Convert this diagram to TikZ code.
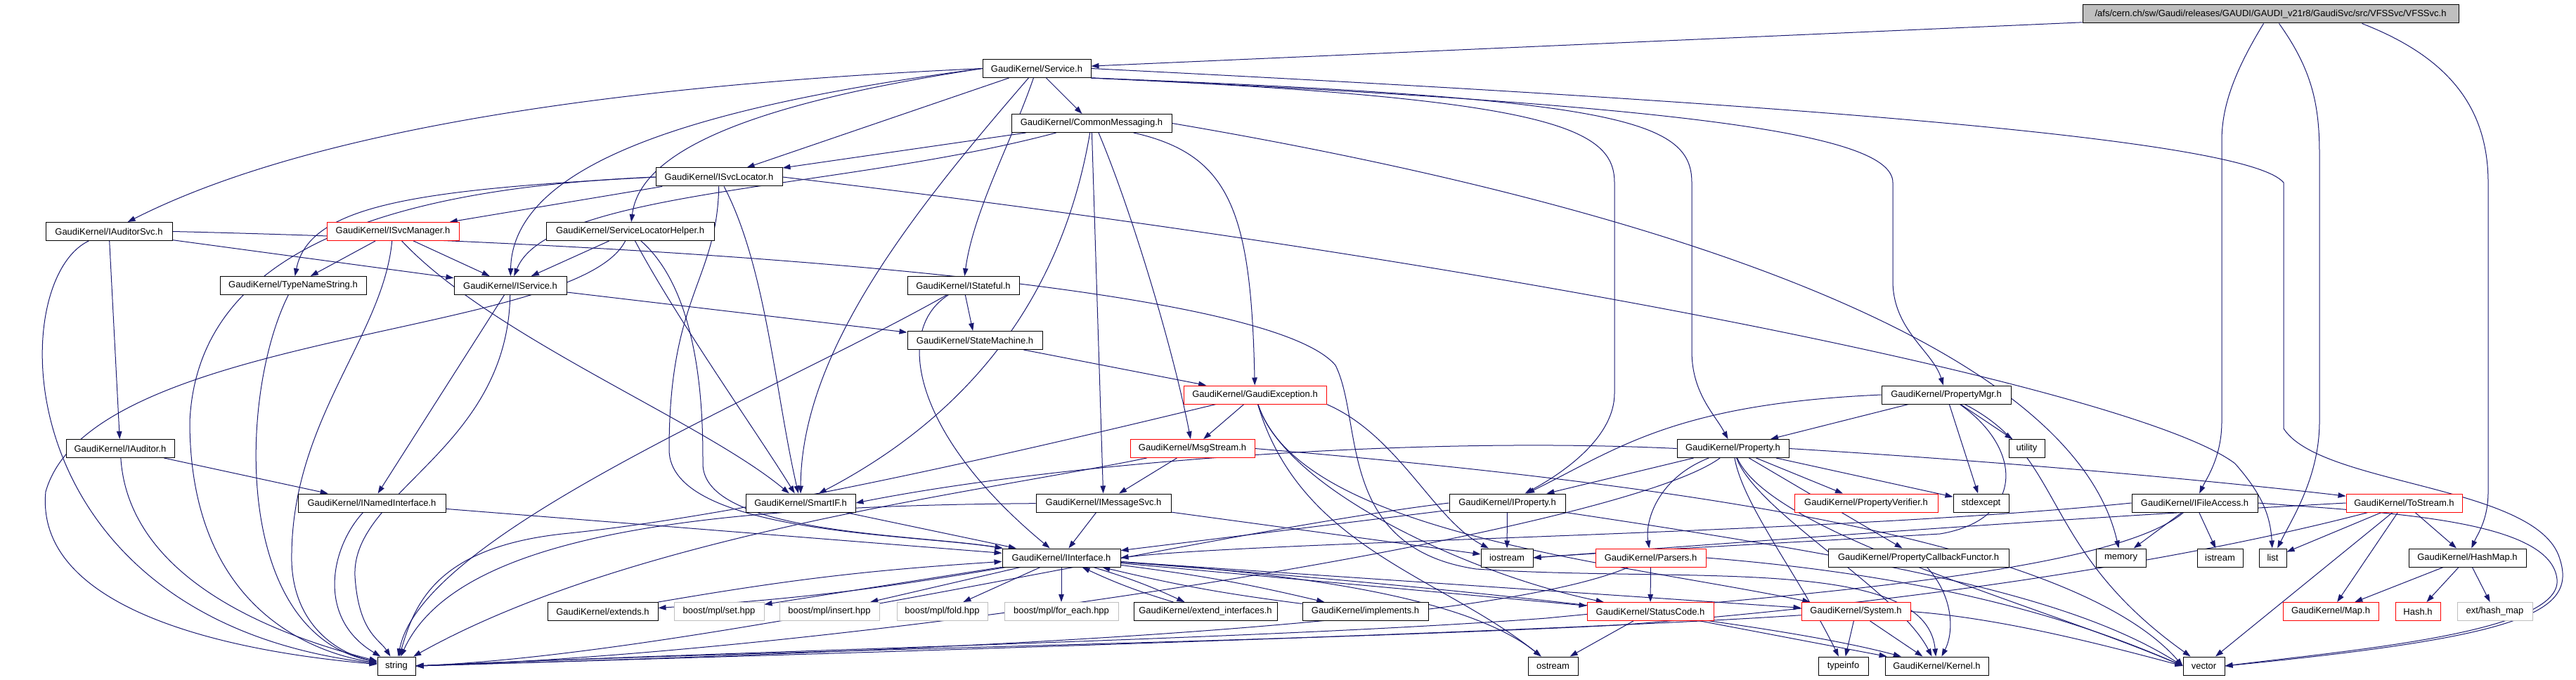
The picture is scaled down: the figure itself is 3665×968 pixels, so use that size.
\documentclass[tikz,border=0pt]{standalone}
\usepackage{fontspec}
\setmainfont{Liberation Sans}
\usetikzlibrary{arrows.meta}
\definecolor{edgec}{HTML}{191970}
\definecolor{rootfill}{HTML}{BFBFBF}
\definecolor{redb}{HTML}{FF0000}
\definecolor{grayb}{HTML}{BFBFBF}
\pgfdeclarelayer{bg}
\pgfsetlayers{bg,main}
\begin{document}
\begin{tikzpicture}[x=1pt,y=-1pt,
  n/.style={draw=black, fill=white, line width=1pt, minimum height=26pt, inner sep=0pt, font=\fontsize{13}{15}\selectfont},
  nr/.style={n, draw=redb},
  ng/.style={n, draw=grayb},
  wd/.style={minimum width=#1pt},
  e/.style={draw=edgec, line width=1pt, -{Triangle[length=11pt,width=7.5pt]}}]
\useasboundingbox (0,0) rectangle (3665,968);
% nodes
\node[n,wd=535,fill=rootfill] (VFSSvc) at (3230.5,20) {/afs/cern.ch/sw/Gaudi/releases/GAUDI/GAUDI\_v21r8/GaudiSvc/src/VFSSvc/VFSSvc.h};
\node[n,wd=154] (Service) at (1475,97.5) {GaudiKernel/Service.h};
\node[n,wd=228] (CommonMessaging) at (1553,175.5) {GaudiKernel/CommonMessaging.h};
\node[n,wd=180] (ISvcLocator) at (1023,252) {GaudiKernel/ISvcLocator.h};
\node[n,wd=180] (IAuditorSvc) at (155,329.5) {GaudiKernel/IAuditorSvc.h};
\node[nr,wd=188] (ISvcManager) at (559,329.5) {GaudiKernel/ISvcManager.h};
\node[n,wd=239] (ServiceLocatorHelper) at (896.5,329.5) {GaudiKernel/ServiceLocatorHelper.h};
\node[n,wd=208] (TypeNameString) at (417,406.5) {GaudiKernel/TypeNameString.h};
\node[n,wd=160] (IService) at (726,406.5) {GaudiKernel/IService.h};
\node[n,wd=159] (IStateful) at (1370.5,406.5) {GaudiKernel/IStateful.h};
\node[n,wd=192] (StateMachine) at (1387,484.5) {GaudiKernel/StateMachine.h};
\node[nr,wd=203] (GaudiException) at (1785.5,562) {GaudiKernel/GaudiException.h};
\node[n,wd=184] (PropertyMgr) at (2769,562) {GaudiKernel/PropertyMgr.h};
\node[nr,wd=177] (MsgStream) at (1696.5,638.5) {GaudiKernel/MsgStream.h};
\node[n,wd=159] (Property) at (2465.5,638.5) {GaudiKernel/Property.h};
\node[n,wd=51] (utility) at (2883.5,638.5) {utility};
\node[n,wd=154] (IAuditor) at (171,638.5) {GaudiKernel/IAuditor.h};
\node[n,wd=210] (INamedInterface) at (529,716) {GaudiKernel/INamedInterface.h};
\node[n,wd=156] (SmartIF) at (1139,716) {GaudiKernel/SmartIF.h};
\node[n,wd=192] (IMessageSvc) at (1570,716) {GaudiKernel/IMessageSvc.h};
\node[n,wd=165] (IProperty) at (2144.5,716) {GaudiKernel/IProperty.h};
\node[nr,wd=204] (PropertyVerifier) at (2655,716) {GaudiKernel/PropertyVerifier.h};
\node[n,wd=79] (stdexcept) at (2818.5,716) {stdexcept};
\node[n,wd=179] (IFileAccess) at (3122.5,716) {GaudiKernel/IFileAccess.h};
\node[nr,wd=165] (ToStream) at (3420.5,716) {GaudiKernel/ToStream.h};
\node[n,wd=168] (IInterface) at (1510,794) {GaudiKernel/IInterface.h};
\node[n,wd=74] (iostream) at (2144,794) {iostream};
\node[nr,wd=157] (Parsers) at (2348.5,794) {GaudiKernel/Parsers.h};
\node[n,wd=257] (PropertyCallbackFunctor) at (2729.5,794) {GaudiKernel/PropertyCallbackFunctor.h};
\node[n,wd=71] (memory) at (3017.5,794) {memory};
\node[n,wd=65] (istream) at (3158.5,794) {istream};
\node[n,wd=39] (list) at (3233.5,794) {list};
\node[n,wd=167] (HashMap) at (3510.5,794) {GaudiKernel/HashMap.h};
\node[n,wd=157] (extends) at (857.5,870.5) {GaudiKernel/extends.h};
\node[ng,wd=128] (mplset) at (1023,870.5) {boost/mpl/set.hpp};
\node[ng,wd=142] (mplinsert) at (1180,870.5) {boost/mpl/insert.hpp};
\node[ng,wd=129] (mplfold) at (1340.5,870.5) {boost/mpl/fold.hpp};
\node[ng,wd=162] (mplforeach) at (1510,870.5) {boost/mpl/for\_each.hpp};
\node[n,wd=204] (extendinterfaces) at (1715,870.5) {GaudiKernel/extend\_interfaces.h};
\node[n,wd=179] (implements) at (1942.5,870.5) {GaudiKernel/implements.h};
\node[nr,wd=180] (StatusCode) at (2348,870.5) {GaudiKernel/StatusCode.h};
\node[nr,wd=155] (System) at (2640.5,870.5) {GaudiKernel/System.h};
\node[nr,wd=136] (Map) at (3316,870.5) {GaudiKernel/Map.h};
\node[nr,wd=64] (Hash) at (3440,870.5) {Hash.h};
\node[ng,wd=107] (exthashmap) at (3549.5,870.5) {ext/hash\_map};
\node[n,wd=54] (string) at (564,948) {string};
\node[n,wd=71] (ostream) at (2209.5,948) {ostream};
\node[n,wd=71] (typeinfo) at (2622.5,948) {typeinfo};
\node[n,wd=147] (Kernel) at (2755.5,948) {GaudiKernel/Kernel.h};
\node[n,wd=59] (vector) at (3135.5,948) {vector};
% edges
\begin{pgfonlayer}{bg}
% VFSSvc
\draw[e] (VFSSvc) -- (Service);
\draw[e] ([xshift=-10pt]VFSSvc.south) .. controls (3180,100) and (3161,150) .. (3161,200) -- (3161,600) .. controls (3161,650) and (3140,680) .. (IFileAccess);
\draw[e] ([xshift=12pt]VFSSvc.south) .. controls (3290,100) and (3300,150) .. (3300,220) -- (3300,600) .. controls (3300,680) and (3260,740) .. (list);
\draw[e] ([xshift=130pt]VFSSvc.south) .. controls (3480,80) and (3540,150) .. (3540,260) -- (3540,700) .. controls (3540,740) and (3525,760) .. (HashMap);
% Service
\draw[e] (Service.west) .. controls (900,120) and (450,180) .. (IAuditorSvc);
\draw[e] (Service) -- (ISvcLocator);
\draw[e] (Service.west) .. controls (1050,150) and (910,220) .. (ServiceLocatorHelper);
\draw[e] (Service) -- (CommonMessaging);
\draw[e] (Service.west) .. controls (1000,150) and (730,230) .. (IService);
\draw[e] (Service) .. controls (1440,200) and (1385,300) .. (IStateful);
\draw[e] (Service) .. controls (1300,300) and (1140,500) .. (SmartIF);
\draw[e] (Service.south east) .. controls (2200,140) and (2297,180) .. (2297,260) -- (2297,560) .. controls (2297,620) and (2230,670) .. (IProperty);
\draw[e] (Service.south east) .. controls (2300,140) and (2407,170) .. (2407,260) -- (2407,500) .. controls (2407,560) and (2440,590) .. (Property);
\draw[e] (Service.south east) .. controls (2400,150) and (2693,190) .. (2693,260) -- (2693,400) .. controls (2693,470) and (2750,500) .. (PropertyMgr);
\draw[e] (Service.east) .. controls (2600,150) and (3200,200) .. (3249,260) -- (3249,610) .. controls (3300,690) and (3600,690) .. (3640,790) .. controls (3670,870) and (3600,905) .. (vector.east);
% ISvcLocator
\draw[e] (ISvcLocator) -- (ISvcManager);
\draw[e] (ISvcLocator.west) .. controls (600,270) and (440,290) .. (TypeNameString);
\draw[e] (ISvcLocator.west) .. controls (500,270) and (280,380) .. (270,600) .. controls (270,870) and (450,930) .. (string);
\draw[e] (ISvcLocator) .. controls (1020,400) and (952,420) .. (952,640) .. controls (952,760) and (1300,760) .. (IInterface);
\draw[e] (ISvcLocator) .. controls (1090,380) and (1103,560) .. (SmartIF);
\draw[e] (ISvcLocator.east) .. controls (2200,380) and (3050,560) .. (3180,660) .. controls (3215,700) and (3230,730) .. (list);
% CommonMessaging
\draw[e] (CommonMessaging) -- (ISvcLocator);
\draw[e] (CommonMessaging) .. controls (1200,270) and (780,270) .. (IService);
\draw[e] (CommonMessaging) .. controls (1515,400) and (1400,580) .. (SmartIF);
\draw[e] (CommonMessaging) -- (IMessageSvc);
\draw[e] ([xshift=10pt]CommonMessaging.south) .. controls (1610,300) and (1670,500) .. (MsgStream);
\draw[e] (CommonMessaging) .. controls (1750,220) and (1780,300) .. (GaudiException);
\draw[e] (CommonMessaging.east) .. controls (2400,300) and (2950,500) .. (memory);
% IAuditorSvc
\draw[e] (IAuditorSvc) -- (IAuditor);
\draw[e] (IAuditorSvc) -- (IService);
\draw[e] (IAuditorSvc) .. controls (5,400) and (5,880) .. (string);
\draw[e] (IAuditorSvc.east) .. controls (900,345) and (1800,400) .. (1900,520) .. controls (1940,600) and (1900,780) .. (2100,810) .. controls (2400,830) and (2740,790) .. (Kernel);
% ISvcManager
\draw[e] (ISvcManager) -- (TypeNameString);
\draw[e] (ISvcManager) -- (IService);
\draw[e] (ISvcManager) .. controls (545,480) and (412,600) .. (415,800) .. controls (418,890) and (480,930) .. (string);
\draw[e] (ISvcManager) .. controls (700,480) and (1000,600) .. (SmartIF);
% ServiceLocatorHelper
\draw[e] (ServiceLocatorHelper) -- (IService);
\draw[e] (ServiceLocatorHelper) .. controls (820,480) and (130,470) .. (65,700) .. controls (50,860) and (300,925) .. (string);
\draw[e] (ServiceLocatorHelper) .. controls (960,450) and (1080,620) .. (SmartIF);
\draw[e] (ServiceLocatorHelper) .. controls (1000,420) and (1000,600) .. (1000,660) .. controls (1000,760) and (1300,760) .. (IInterface);
% TypeNameString, IService, IStateful, StateMachine
\draw[e] (TypeNameString) .. controls (340,560) and (330,900) .. (string);
\draw[e] (IService) -- (INamedInterface);
\draw[e] (IService) .. controls (722,640) and (500,700) .. (505,820) .. controls (510,900) and (540,910) .. (string);
\draw[e] (IService) -- (StateMachine);
\draw[e] (IStateful) -- (StateMachine);
\draw[e] (IStateful) .. controls (1100,560) and (600,760) .. (string);
\draw[e] (IStateful) .. controls (1270,470) and (1300,620) .. (IInterface);
\draw[e] (StateMachine) -- (GaudiException);
% GaudiException
\draw[e] (GaudiException) -- (MsgStream);
\draw[e] (GaudiException) .. controls (1300,680) and (1000,740) .. (800,760) .. controls (620,780) and (590,860) .. (string);
\draw[e] (GaudiException.south east) .. controls (1990,620) and (2040,740) .. (iostream);
\draw[e] (GaudiException) .. controls (1830,700) and (2100,820) .. (StatusCode);
\draw[e] (GaudiException) .. controls (1850,760) and (2300,800) .. (System);
\draw[e] (GaudiException) .. controls (1850,780) and (2050,820) .. (ostream);
% MsgStream
\draw[e] (MsgStream) -- (IMessageSvc);
\draw[e] (MsgStream) .. controls (1400,700) and (900,760) .. (string);
\draw[e] (MsgStream.east) .. controls (2400,690) and (2950,770) .. (vector.west);
% IMessageSvc, SmartIF, INamedInterface, IAuditor
\draw[e] (IMessageSvc) -- (IInterface);
\draw[e] (IMessageSvc) .. controls (1000,720) and (650,760) .. (string);
\draw[e] (IMessageSvc) -- (iostream);
\draw[e] (SmartIF) -- (IInterface);
\draw[e] (INamedInterface) -- (IInterface);
\draw[e] (INamedInterface) .. controls (470,780) and (450,880) .. (string);
\draw[e] (IAuditor) -- (INamedInterface);
\draw[e] (IAuditor) .. controls (180,780) and (300,880) .. (string);
% IInterface
\draw[e] (IInterface) to[bend left=3] (extends);
\draw[e] (extends) to[bend left=3] (IInterface);
\draw[e] (IInterface) -- (mplset);
\draw[e] (IInterface) -- (mplinsert);
\draw[e] (IInterface) -- (mplfold);
\draw[e] (IInterface) -- (mplforeach);
\draw[e] (IInterface) to[bend left=4] (extendinterfaces);
\draw[e] (extendinterfaces) to[bend left=4] (IInterface);
\draw[e] (IInterface) to[bend left=3] (implements);
\draw[e] (implements) to[bend left=3] (IInterface);
\draw[e] (IInterface) -- (StatusCode);
\draw[e] (IInterface) -- (System);
\draw[e] (IInterface) .. controls (2000,830) and (2500,880) .. (Kernel);
\draw[e] (IInterface) .. controls (1900,820) and (2100,860) .. (ostream);
% IProperty
\draw[e] (IProperty) -- (IInterface);
\draw[e] (IProperty) -- (iostream);
\draw[e] (IProperty.west) .. controls (1700,760) and (1000,930) .. (string.east);
\draw[e] (IProperty.south east) .. controls (2700,800) and (2950,850) .. (vector.west);
% Property
\draw[e] (Property) -- (IProperty);
\draw[e] (Property.west) .. controls (2000,620) and (1500,660) .. (SmartIF.east);
\draw[e] (Property) -- (PropertyVerifier);
\draw[e] (Property) -- (stdexcept);
\draw[e] (Property.east) .. controls (2900,660) and (3200,690) .. (ToStream);
\draw[e] (Property) .. controls (2360,680) and (2340,740) .. (Parsers);
\draw[e] (Property) -- (PropertyCallbackFunctor);
\draw[e] (Property) .. controls (2300,760) and (1200,930) .. (string.east);
\draw[e] (Property) .. controls (2480,720) and (2560,820) .. (typeinfo);
\draw[e] (Property) .. controls (2500,730) and (2700,840) .. (Kernel);
\draw[e] (Property) .. controls (2520,760) and (2900,860) .. (vector.west);
% PropertyMgr
\draw[e] (PropertyMgr) -- (Property);
\draw[e] (PropertyMgr.west) .. controls (2380,575) and (2300,640) .. (IProperty);
\draw[e] (PropertyMgr) -- (utility);
\draw[e] (PropertyMgr) -- (stdexcept);
\draw[e] (PropertyMgr) .. controls (2880,640) and (2880,740) .. (2760,760) .. controls (2500,775) and (2300,785) .. (iostream.east);
\draw[e] (PropertyMgr) .. controls (2940,650) and (2900,780) .. (vector);
% Parsers, StatusCode, System, PropertyCallbackFunctor
\draw[e] (Parsers) -- (StatusCode);
\draw[e] (Parsers) .. controls (2100,900) and (1200,930) .. (string.east);
\draw[e] (Parsers.east) .. controls (2750,820) and (2950,880) .. (vector.west);
\draw[e] (StatusCode) -- (ostream);
\draw[e] (StatusCode) -- (Kernel);
\draw[e] (System) -- (typeinfo);
\draw[e] (System) -- (Kernel);
\draw[e] (System) .. controls (2200,900) and (1200,930) .. (string.east);
\draw[e] (System.east) .. controls (2850,880) and (3000,920) .. (vector.west);
\draw[e] (PropertyCallbackFunctor) .. controls (2780,850) and (2780,900) .. (Kernel);
% IFileAccess
\draw[e] (IFileAccess) -- (memory);
\draw[e] (IFileAccess) -- (istream);
\draw[e] (IFileAccess) .. controls (3000,820) and (2500,850) .. (2200,880) .. controls (1800,910) and (1100,925) .. (string.east);
\draw[e] (IFileAccess.east) .. controls (3400,730) and (3630,740) .. (3638,825) .. controls (3645,900) and (3350,925) .. (vector.east);
\draw[e] (IFileAccess.west) .. controls (2600,760) and (1800,770) .. (IInterface.east);
% ToStream
\draw[e] (ToStream) -- (list);
\draw[e] (ToStream) -- (HashMap);
\draw[e] (ToStream) -- (Map);
\draw[e] (ToStream) -- (vector);
\draw[e] (ToStream) .. controls (3100,800) and (2700,860) .. (2300,890) .. controls (1800,915) and (1100,925) .. (string.east);
\draw[e] (ToStream.west) .. controls (2900,740) and (2500,770) .. (iostream.east);
% HashMap
\draw[e] (HashMap) -- (Map);
\draw[e] (HashMap) -- (Hash);
\draw[e] (HashMap) -- (exthashmap);
\end{pgfonlayer}
\end{tikzpicture}
\end{document}
